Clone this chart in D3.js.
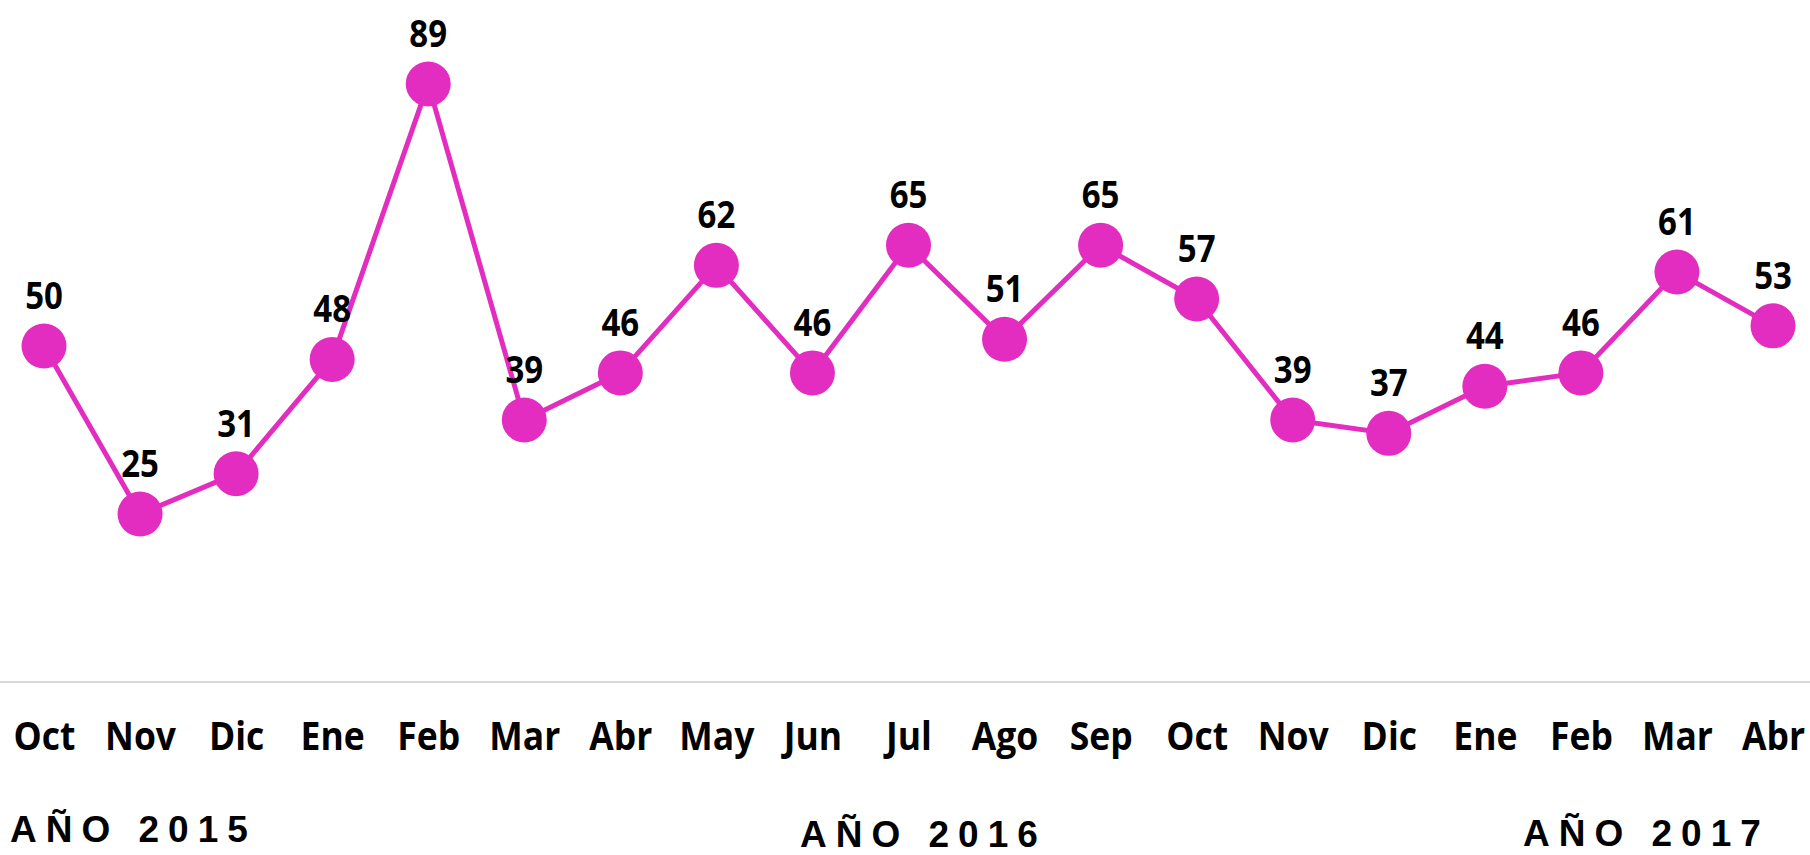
<!DOCTYPE html>
<html>
<head>
<meta charset="utf-8">
<script src="https://cdn.jsdelivr.net/npm/d3@7"></script>
<style>
  html, body { margin: 0; padding: 0; background: #fff; }
  svg { display: block; }
</style>
</head>
<body>
<div id="svganchor"></div>
<script>
let width = 1810;
let height = 855;

// Months shown along the bottom
let months = ["Oct", "Nov", "Dic", "Ene", "Feb", "Mar", "Abr", "May", "Jun", "Jul",
              "Ago", "Sep", "Oct", "Nov", "Dic", "Ene", "Feb", "Mar", "Abr"];

// Value for each month
let values = [50, 25, 31, 48, 89, 39, 46, 62, 46, 65, 51, 65, 57, 39, 37, 44, 46, 61, 53];

// Year captions under the months
let years = ["AÑO 2015", "AÑO 2016", "AÑO 2017"];

let lineColor = "#e32cc0";

let svg = d3.select("#svganchor")
    .append("svg")
    .attr("width", width)
    .attr("height", height);

let idx = months.map((m, i) => i);

let xScale = d3.scalePoint()
    .domain(idx)
    .range([44, 1773]);

let yScale = d3.scaleLinear()
    .domain([0, 100])
    .range([682, 10]);

// baseline (light grey)
svg.append("line")
    .attr("x1", 0)
    .attr("x2", width)
    .attr("y1", yScale(0))
    .attr("y2", yScale(0))
    .attr("stroke", "#d9d9d9")
    .attr("stroke-width", 2);

// month labels via bottom axis with no lines
let xAxis = d3.axisBottom(xScale)
    .tickSize(0)
    .tickPadding(0)
    .tickFormat(i => months[i]);

let axisG = svg.append("g")
    .attr("transform", "translate(0,750)")
    .call(xAxis);

axisG.select(".domain").remove();
axisG.selectAll("text")
    .attr("dy", null)
    .attr("y", 0)
    .attr("transform", "scale(1,1.1)")
    .attr("font-family", "'Open Sans', sans-serif")
    .attr("font-weight", "bold")
    .attr("font-size", 35.5)
    .attr("fill", "#000");

// connecting line
let line = d3.line()
    .x((d, i) => xScale(i))
    .y(d => yScale(d));

svg.append("path")
    .datum(values)
    .attr("fill", "none")
    .attr("stroke", lineColor)
    .attr("stroke-width", 5)
    .attr("stroke-linejoin", "round")
    .attr("d", line);

// markers
svg.selectAll(".dot")
    .data(values)
    .enter()
    .append("circle")
    .attr("class", "dot")
    .attr("cx", (d, i) => xScale(i))
    .attr("cy", d => yScale(d))
    .attr("r", 22.5)
    .attr("fill", lineColor);

// value labels above markers
svg.selectAll(".val")
    .data(values)
    .enter()
    .append("text")
    .attr("class", "val")
    .attr("transform", (d, i) => "translate(" + xScale(i) + "," + (yScale(d) - 37) + ") scale(1,1.15)")
    .attr("text-anchor", "middle")
    .attr("font-family", "'Open Sans', sans-serif")
    .attr("font-weight", "bold")
    .attr("font-size", 33)
    .attr("fill", "#000")
    .text(d => d);

// year captions: left, centre, right
let yearPos = [
    {x: 10, y: 842},
    {x: 800, y: 847},
    {x: 1523, y: 846}
];

svg.selectAll(".year")
    .data(years)
    .enter()
    .append("text")
    .attr("class", "year")
    .attr("transform", (d, i) => "translate(" + yearPos[i].x + "," + yearPos[i].y + ")")
    .attr("font-family", "'Liberation Sans', Arial, sans-serif")
    .attr("font-weight", "bold")
    .attr("font-size", 37)
    .attr("letter-spacing", 9)
    .attr("fill", "#000")
    .text(d => d);
</script>
</body>
</html>
